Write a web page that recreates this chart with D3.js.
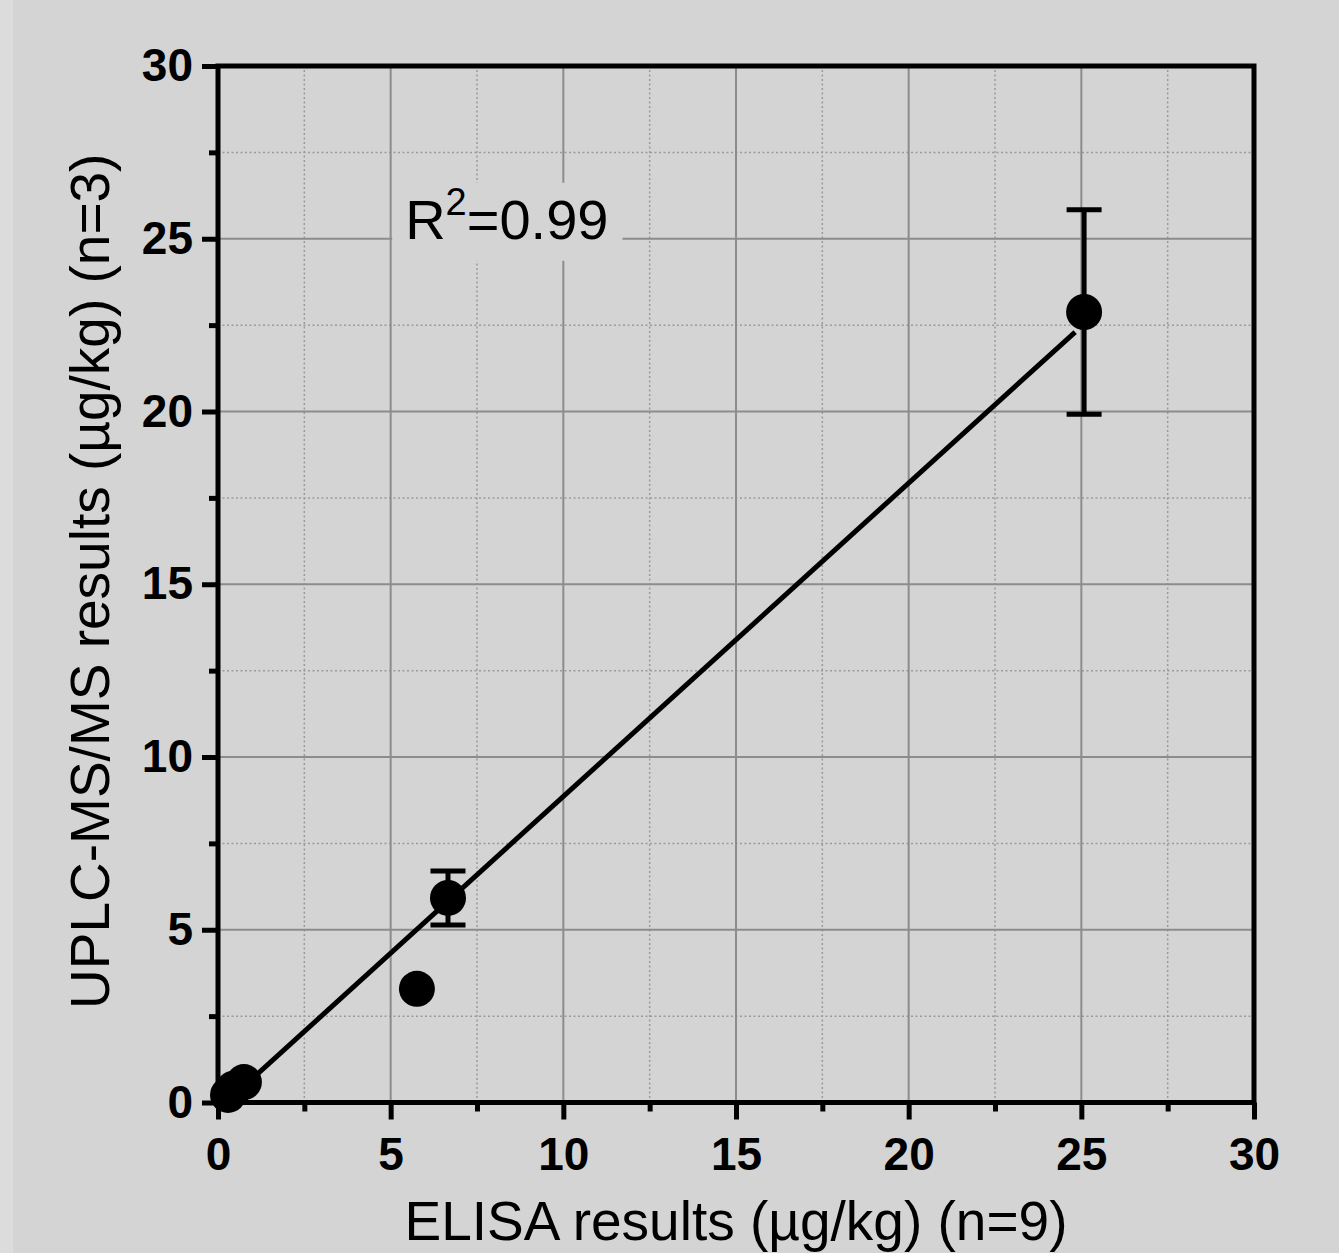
<!DOCTYPE html>
<html>
<head>
<meta charset="utf-8">
<script src="https://cdn.jsdelivr.net/npm/d3@7"></script>
<style>
  html, body { margin: 0; padding: 0; background: #d4d4d4; }
  svg { display: block; font-family: "Liberation Sans", Arial, sans-serif; }
</style>
</head>
<body>
<svg id="chart" width="1339" height="1253"></svg>
<script>
// ---- data ----
const elisa   = [0.29, 0.45, 0.75, 5.76, 6.66, 25.08];   // x: ELISA results (µg/kg)
const uplc    = [0.22, 0.40, 0.59, 3.29, 5.92, 22.88];   // y: UPLC-MS/MS results (µg/kg)
const uplcErr = [0, 0, 0, 0, 0.78, 2.96];                // y error (SD)
const fitX = [0.3, 24.82];
const fitY = [0.06, 22.30];
const majorTicks = [0, 5, 10, 15, 20, 25, 30];
const minorTicks = [2.5, 7.5, 12.5, 17.5, 22.5, 27.5];
const xTitle = "ELISA results (\u00b5g/kg) (n=9)";
const yTitle = "UPLC-MS/MS results (\u00b5g/kg) (n=3)";
const r2Label = { x: 5.42, y: 25.0, base: "R", sup: "2", rest: "=0.99" };

// ---- layout ----
const W = 1339, H = 1253;
const svg = d3.select("#chart");
svg.append("rect").attr("x", 0).attr("y", 0).attr("width", W).attr("height", H).attr("fill", "#d4d4d4");
svg.append("rect").attr("x", 0).attr("y", 0).attr("width", 13).attr("height", H).attr("fill", "#dcdcdc");

const x = d3.scaleLinear().domain([0, 30]).range([218, 1254]);
const y = d3.scaleLinear().domain([0, 30]).range([1102.5, 66]);

// grid
const grid = svg.append("g");
grid.selectAll(".vmin").data(minorTicks).join("line")
  .attr("x1", d => x(d)).attr("x2", d => x(d)).attr("y1", y(0)).attr("y2", y(30))
  .attr("stroke", "#9a9a9a").attr("stroke-width", 1.5).attr("stroke-dasharray", "2,2.5");
grid.selectAll(".hmin").data(minorTicks).join("line")
  .attr("y1", d => y(d)).attr("y2", d => y(d)).attr("x1", x(0)).attr("x2", x(30))
  .attr("stroke", "#9a9a9a").attr("stroke-width", 1.5).attr("stroke-dasharray", "2,2.5");
grid.selectAll(".vmaj").data(majorTicks.slice(1, -1)).join("line")
  .attr("x1", d => x(d)).attr("x2", d => x(d)).attr("y1", y(0)).attr("y2", y(30))
  .attr("stroke", "#8c8c8c").attr("stroke-width", 2);
grid.selectAll(".hmaj").data(majorTicks.slice(1, -1)).join("line")
  .attr("y1", d => y(d)).attr("y2", d => y(d)).attr("x1", x(0)).attr("x2", x(30))
  .attr("stroke", "#8c8c8c").attr("stroke-width", 2);

// R² label with background box
const lab = svg.append("g");
const t = lab.append("text")
  .attr("x", x(r2Label.x)).attr("y", y(r2Label.y))
  .attr("font-size", 56).attr("fill", "#000");
t.append("tspan").text(r2Label.base);
t.append("tspan").attr("font-size", 38).attr("dy", -24).text(r2Label.sup);
t.append("tspan").attr("dy", 24).text(r2Label.rest);
const bb = t.node().getBBox();
lab.insert("rect", "text")
  .attr("x", bb.x - 13).attr("y", bb.y + 2).attr("width", bb.width + 27).attr("height", bb.height + 8)
  .attr("fill", "#d4d4d4");

// fit line
svg.append("line")
  .attr("x1", x(fitX[0])).attr("y1", y(fitY[0]))
  .attr("x2", x(fitX[1])).attr("y2", y(fitY[1]))
  .attr("stroke", "#000").attr("stroke-width", 5);

// error bars
const pts = elisa.map((d, i) => ({ x: d, y: uplc[i], e: uplcErr[i] }));
const eb = svg.append("g").attr("stroke", "#000").attr("stroke-width", 5);
pts.filter(p => p.e > 0).forEach(p => {
  eb.append("line").attr("x1", x(p.x)).attr("x2", x(p.x)).attr("y1", y(p.y - p.e)).attr("y2", y(p.y + p.e));
  eb.append("line").attr("x1", x(p.x) - 17.5).attr("x2", x(p.x) + 17.5).attr("y1", y(p.y + p.e)).attr("y2", y(p.y + p.e));
  eb.append("line").attr("x1", x(p.x) - 17.5).attr("x2", x(p.x) + 17.5).attr("y1", y(p.y - p.e)).attr("y2", y(p.y - p.e));
});

// points
svg.append("g").selectAll("circle").data(pts).join("circle")
  .attr("cx", d => x(d.x)).attr("cy", d => y(d.y)).attr("r", 18).attr("fill", "#000");

// frame
svg.append("rect")
  .attr("x", x(0)).attr("y", y(30)).attr("width", x(30) - x(0)).attr("height", y(0) - y(30))
  .attr("fill", "none").attr("stroke", "#000").attr("stroke-width", 5);

// axes
function styleAxis(g) {
  g.select(".domain").remove();
  g.selectAll(".tick line").attr("stroke", "#000").attr("stroke-width", 5);
  g.selectAll(".tick text").attr("fill", "#000").attr("font-size", 46).attr("font-weight", "bold")
    .attr("font-family", "'Liberation Sans', Arial, sans-serif");
}
svg.append("g").attr("transform", `translate(${x(0)},0)`)
  .call(d3.axisLeft(y).tickValues(minorTicks).tickSize(9).tickFormat(""))
  .call(styleAxis);
svg.append("g").attr("transform", `translate(${x(0)},0)`)
  .call(d3.axisLeft(y).tickValues(majorTicks).tickSize(16).tickPadding(9).tickFormat(d3.format("d")))
  .call(styleAxis);
svg.append("g").attr("transform", `translate(0,${y(0)})`)
  .call(d3.axisBottom(x).tickValues(minorTicks).tickSize(9).tickFormat(""))
  .call(styleAxis);
svg.append("g").attr("transform", `translate(0,${y(0)})`)
  .call(d3.axisBottom(x).tickValues(majorTicks).tickSize(17).tickPadding(18).tickFormat(d3.format("d")))
  .call(styleAxis);

// axis titles
svg.append("text")
  .attr("x", (x(0) + x(30)) / 2).attr("y", 1240)
  .attr("text-anchor", "middle").attr("font-size", 55).attr("fill", "#000")
  .text(xTitle);
svg.append("text")
  .attr("transform", `translate(109,${(y(0) + y(30)) / 2 - 3}) rotate(-90)`)
  .attr("text-anchor", "middle").attr("font-size", 55).attr("fill", "#000")
  .text(yTitle);
</script>
</body>
</html>
